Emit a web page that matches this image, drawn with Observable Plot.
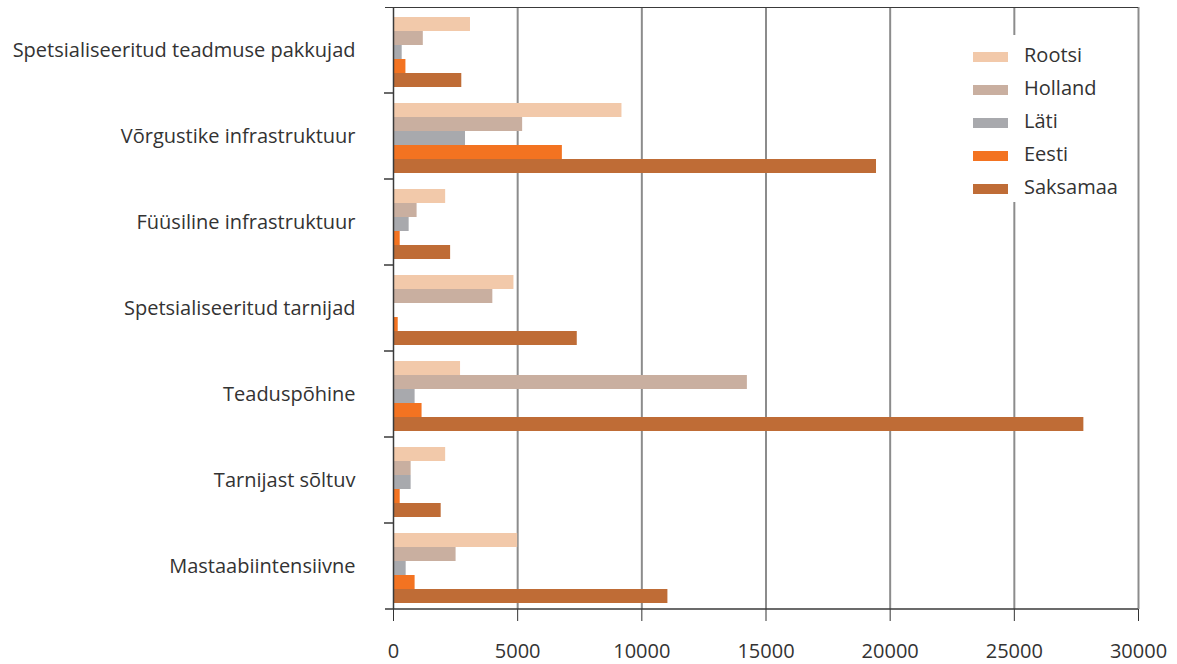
<!DOCTYPE html>
<html><head><meta charset="utf-8">
<script src="https://cdn.jsdelivr.net/npm/d3@7"></script>
<script src="https://cdn.jsdelivr.net/npm/@observablehq/plot@0.6"></script>
<style>
body{margin:0;background:#fff;}
#wrap{position:relative;width:1177px;height:664px;font-family:"Open Sans",sans-serif;color:#333;}
#legend{position:absolute;left:955px;top:35px;width:180px;height:167px;background:#fff;box-sizing:border-box;padding-top:5px;}
.row{display:flex;align-items:center;height:33px;padding-left:18px;font-size:20px;line-height:33px;}
.row span{position:relative;top:-2px;}
.sw{width:35px;height:10px;margin-right:16px;flex:none;}
</style></head><body><div id="wrap"></div>
<script>
const categories = ["Spetsialiseeritud teadmuse pakkujad","Võrgustike infrastruktuur","Füüsiline infrastruktuur","Spetsialiseeritud tarnijad","Teaduspõhine","Tarnijast sõltuv","Mastaabiintensiivne"];
const series = ["Rootsi","Holland","Läti","Eesti","Saksamaa"];
const colors = ["#f2c9aa","#c9afa0","#a8a9ad","#f37321","#bf6c36"];
const rootsi   = [3100, 9200, 2100, 4850, 2700, 2100, 5000];
const holland  = [1200, 5200, 950, 4000, 14250, 710, 2520];
const lati     = [350, 2900, 630, 0, 870, 710, 510];
const eesti    = [500, 6800, 270, 190, 1150, 270, 870];
const saksamaa = [2750, 19450, 2300, 7400, 27800, 1920, 11050];
const xTicks = [0, 5000, 10000, 15000, 20000, 25000, 30000];

const valuesBySeries = [rootsi, holland, lati, eesti, saksamaa];
const data = [];
categories.forEach((c, i) => series.forEach((s, j) => data.push({category: c, series: s, value: valuesBySeries[j][i]})));

const plot = Plot.plot({
  width: 1177, height: 664,
  marginTop: 7, marginBottom: 55, marginLeft: 393, marginRight: 39,
  style: {fontFamily: "'Open Sans', sans-serif", fontSize: "20px", color: "#333", background: "white", overflow: "visible"},
  x: {domain: [0, 30000], ticks: xTicks, tickFormat: d => String(d), tickSize: 12, tickPadding: 22, label: null},
  y: {domain: series, axis: null, paddingInner: 0, paddingOuter: 0.367, align: 0.64},
  fy: {domain: categories, axis: "left", label: null, tickSize: 0, tickPadding: 38, paddingInner: 0, paddingOuter: 0},
  color: {domain: series, range: colors},
  marks: [
    Plot.ruleX(xTicks.filter(d => d > 0), {stroke: "#8c8c8c", strokeOpacity: 1, strokeWidth: 2}),
    Plot.barX(data, {x: "value", y: "series", fy: "category", fill: "series"}),
    Plot.ruleX([0], {stroke: "#3a3a3a", strokeWidth: 1.5})
  ]
});

document.getElementById("wrap").appendChild(plot);

// boundary ticks, top line and baseline from the library's scales
const fy = plot.scale("fy"), xs = plot.scale("x");
const x0 = xs.apply(0), x1 = xs.apply(30000);
const g = d3.select(plot).append("g").attr("stroke", "#3a3a3a").attr("fill", "none");
const topY = fy.apply(categories[0]);
const botY = fy.apply(categories[categories.length - 1]) + fy.bandwidth;
g.append("line").attr("x1", x0 - 8).attr("x2", x1).attr("y1", topY + 0.5).attr("y2", topY + 0.5).attr("stroke-width", 1);
g.append("line").attr("x1", x0 - 8).attr("x2", x1).attr("y1", botY).attr("y2", botY).attr("stroke-width", 1.5);
categories.slice(1).forEach(c => {
  const y = fy.apply(c);
  g.append("line").attr("x1", x0 - 9).attr("x2", x0).attr("y1", y).attr("y2", y).attr("stroke-width", 1.5);
});

// legend
const legend = d3.select("#wrap").append("div").attr("id", "legend");
series.forEach((s, j) => {
  const r = legend.append("div").attr("class", "row");
  r.append("div").attr("class", "sw").style("background", colors[j]);
  r.append("span").text(s);
});
</script></body></html>
